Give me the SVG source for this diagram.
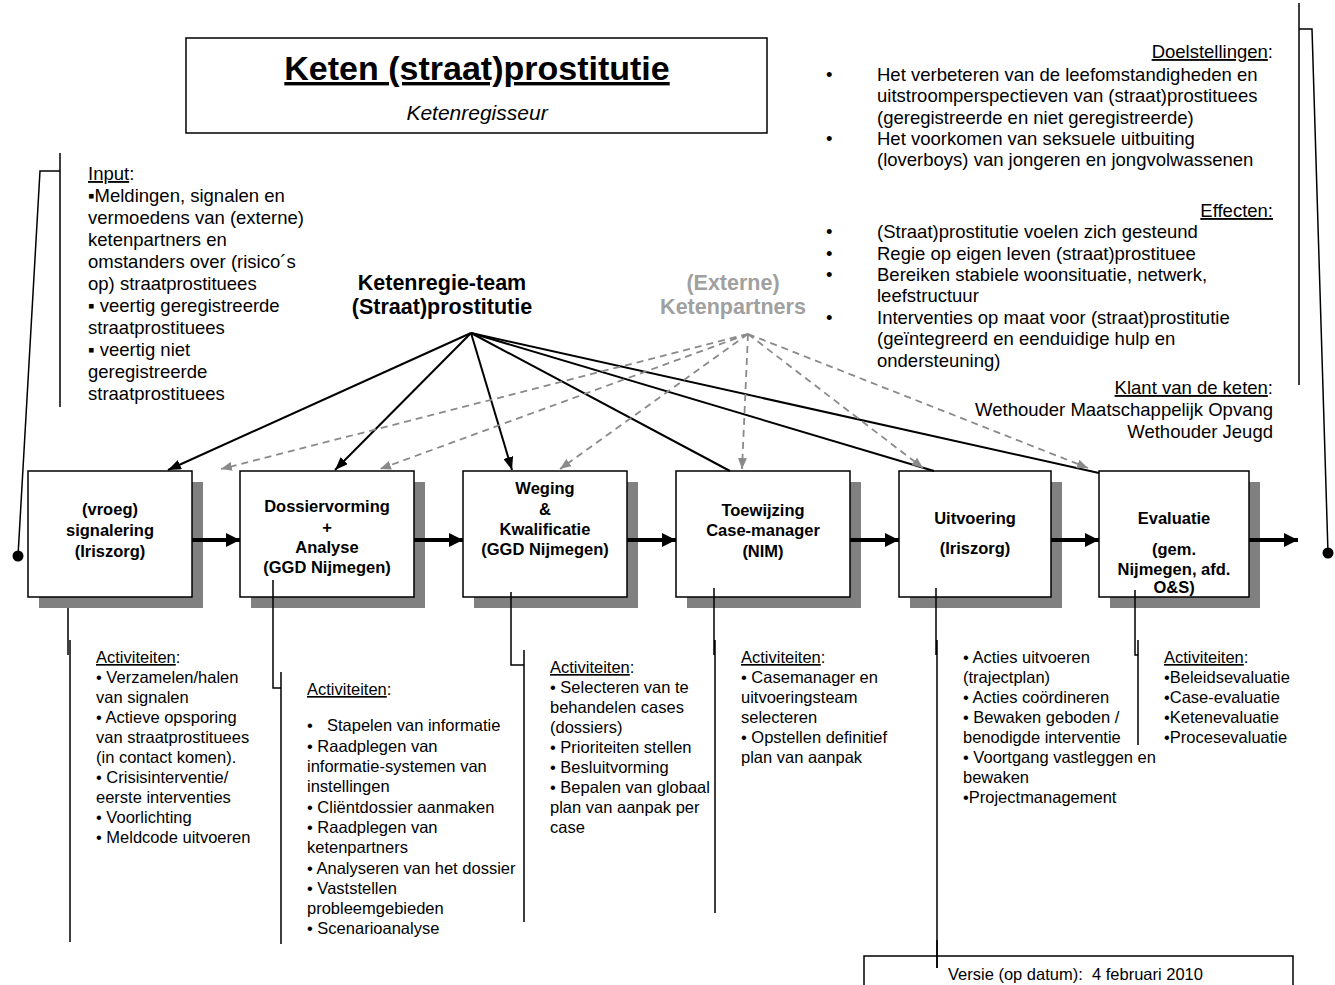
<svg xmlns="http://www.w3.org/2000/svg" width="1335" height="985" viewBox="0 0 1335 985">
<defs>
<style>
text{font-family:"Liberation Sans",Arial,Helvetica,sans-serif;fill:#000}
.t{font-size:18.5px}
.a{font-size:16.5px}
.b{font-size:16.5px;font-weight:bold;text-anchor:middle}
.h{font-size:21.5px;font-weight:bold;text-anchor:middle}
.g{fill:#a0a0a0}
.u{text-decoration:underline}
.box{fill:#fff;stroke:#000;stroke-width:1.5}
.sh{fill:#808080}
.ln{stroke:#000;stroke-width:1.5;fill:none}
.kl{stroke:#000;stroke-width:2;fill:none}
.dl{stroke:#8a8a8a;stroke-width:1.8;fill:none;stroke-dasharray:7 5}
.th{stroke:#000;stroke-width:4;fill:none}
</style>
<marker id="ah" markerWidth="13" markerHeight="10" refX="13" refY="5" orient="auto" markerUnits="userSpaceOnUse"><path d="M0,0 L13,5 L0,10 z" fill="#000"/></marker>
<marker id="ag" markerWidth="11" markerHeight="9" refX="11" refY="4.5" orient="auto" markerUnits="userSpaceOnUse"><path d="M0,0 L11,4.5 L0,9 z" fill="#8a8a8a"/></marker>
<marker id="at" markerWidth="14" markerHeight="14" refX="14" refY="7" orient="auto" markerUnits="userSpaceOnUse"><path d="M0,0 L14,7 L0,14 z" fill="#000"/></marker>
</defs>
<rect width="1335" height="985" fill="#fff"/>

<g id="title">
<rect x="186" y="38" width="581" height="95" fill="#fff" stroke="#000" stroke-width="1.5"/>
<text x="477" y="80" style="font-size:34px;font-weight:bold;text-anchor:middle;text-decoration:underline">Keten (straat)prostitutie</text>
<text x="477" y="120" style="font-size:21px;font-style:italic;text-anchor:middle">Ketenregisseur</text>
</g>

<g id="input">
<path class="ln" d="M60,153 V407 M60,171 H40 L18,556"/>
<circle cx="18" cy="556" r="5.5" fill="#000"/>
<text class="t" x="88" y="180"><tspan class="u">Input</tspan>:</text>
<text class="t" x="88" y="202">▪Meldingen, signalen en</text>
<text class="t" x="88" y="224">vermoedens van (externe)</text>
<text class="t" x="88" y="246">ketenpartners en</text>
<text class="t" x="88" y="268">omstanders over (risico´s</text>
<text class="t" x="88" y="290">op) straatprostituees</text>
<text class="t" x="88" y="312">▪ veertig geregistreerde</text>
<text class="t" x="88" y="334">straatprostituees</text>
<text class="t" x="88" y="356">▪ veertig niet</text>
<text class="t" x="88" y="378">geregistreerde</text>
<text class="t" x="88" y="400">straatprostituees</text>
</g>

<g id="doelstellingen">
<path class="ln" d="M1299,3 V385 M1299,29 H1312 L1328,553"/>
<circle cx="1328" cy="553" r="5.5" fill="#000"/>
<text class="t" x="1273" y="58" text-anchor="end"><tspan class="u">Doelstellingen</tspan>:</text>
<text class="t" x="826" y="81">•</text>
<text class="t" x="877" y="81">Het verbeteren van de leefomstandigheden en</text>
<text class="t" x="877" y="102">uitstroomperspectieven van (straat)prostituees</text>
<text class="t" x="877" y="124">(geregistreerde en niet geregistreerde)</text>
<text class="t" x="826" y="145">•</text>
<text class="t" x="877" y="145">Het voorkomen van seksuele uitbuiting</text>
<text class="t" x="877" y="166">(loverboys) van jongeren en jongvolwassenen</text>
<text class="t" x="1273" y="217" text-anchor="end"><tspan class="u">Effecten:</tspan></text>
<text class="t" x="826" y="238">•</text>
<text class="t" x="877" y="238">(Straat)prostitutie voelen zich gesteund</text>
<text class="t" x="826" y="260">•</text>
<text class="t" x="877" y="260">Regie op eigen leven (straat)prostituee</text>
<text class="t" x="826" y="281">•</text>
<text class="t" x="877" y="281">Bereiken stabiele woonsituatie, netwerk,</text>
<text class="t" x="877" y="302">leefstructuur</text>
<text class="t" x="826" y="324">•</text>
<text class="t" x="877" y="324">Interventies op maat voor (straat)prostitutie</text>
<text class="t" x="877" y="345">(geïntegreerd en eenduidige hulp en</text>
<text class="t" x="877" y="367">ondersteuning)</text>
<text class="t" x="1273" y="394" text-anchor="end"><tspan class="u">Klant van de keten</tspan>:</text>
<text class="t" x="1273" y="416" text-anchor="end">Wethouder Maatschappelijk Opvang</text>
<text class="t" x="1273" y="438" text-anchor="end">Wethouder Jeugd</text>
</g>

<g id="ketenregie-team">
<text class="h" x="442" y="290">Ketenregie-team</text>
<text class="h" x="442" y="314">(Straat)prostitutie</text>
</g>
<g id="externe-ketenpartners">
<text class="h g" x="733" y="290">(Externe)</text>
<text class="h g" x="733" y="314">Ketenpartners</text>
</g>

<g id="node-signalering">
<rect class="sh" x="39" y="482" width="164" height="126"/>
<rect class="box" x="28" y="471" width="164" height="126"/>
<text class="b" x="110" y="515">(vroeg)</text>
<text class="b" x="110" y="536">signalering</text>
<text class="b" x="110" y="557">(Iriszorg)</text>
</g>
<g id="node-dossiervorming">
<rect class="sh" x="251" y="482" width="174" height="126"/>
<rect class="box" x="240" y="471" width="174" height="126"/>
<text class="b" x="327" y="512">Dossiervorming</text>
<text class="b" x="327" y="533">+</text>
<text class="b" x="327" y="553">Analyse</text>
<text class="b" x="327" y="573">(GGD Nijmegen)</text>
</g>
<g id="node-weging">
<rect class="sh" x="474" y="482" width="164" height="126"/>
<rect class="box" x="463" y="471" width="164" height="126"/>
<text class="b" x="545" y="494">Weging</text>
<text class="b" x="545" y="515">&amp;</text>
<text class="b" x="545" y="535">Kwalificatie</text>
<text class="b" x="545" y="555">(GGD Nijmegen)</text>
</g>
<g id="node-toewijzing">
<rect class="sh" x="687" y="482" width="174" height="126"/>
<rect class="box" x="676" y="471" width="174" height="126"/>
<text class="b" x="763" y="516">Toewijzing</text>
<text class="b" x="763" y="536">Case-manager</text>
<text class="b" x="763" y="557">(NIM)</text>
</g>
<g id="node-uitvoering">
<rect class="sh" x="910" y="482" width="152" height="126"/>
<rect class="box" x="899" y="471" width="152" height="126"/>
<text class="b" x="975" y="524">Uitvoering</text>
<text class="b" x="975" y="554">(Iriszorg)</text>
</g>
<g id="node-evaluatie">
<rect class="sh" x="1110" y="482" width="150" height="126"/>
<rect class="box" x="1099" y="471" width="150" height="126"/>
<text class="b" x="1174" y="524">Evaluatie</text>
<text class="b" x="1174" y="555">(gem.</text>
<text class="b" x="1174" y="575">Nijmegen, afd.</text>
<text class="b" x="1174" y="593">O&amp;S)</text>
</g>

<g id="connectors">
<line class="th" x1="192" y1="540" x2="240" y2="540" marker-end="url(#at)"/>
<line class="th" x1="414" y1="540" x2="463" y2="540" marker-end="url(#at)"/>
<line class="th" x1="627" y1="540" x2="676" y2="540" marker-end="url(#at)"/>
<line class="th" x1="850" y1="540" x2="899" y2="540" marker-end="url(#at)"/>
<line class="th" x1="1051" y1="540" x2="1099" y2="540" marker-end="url(#at)"/>
<line class="th" x1="1249" y1="540" x2="1298" y2="540" marker-end="url(#at)"/>

<line class="kl" x1="471" y1="333" x2="168" y2="470" marker-end="url(#ah)"/>
<line class="kl" x1="471" y1="333" x2="335" y2="470" marker-end="url(#ah)"/>
<line class="kl" x1="471" y1="333" x2="512" y2="470" marker-end="url(#ah)"/>
<line class="kl" x1="471" y1="333" x2="730" y2="471"/>
<line class="kl" x1="471" y1="333" x2="934" y2="471"/>
<line class="kl" x1="471" y1="333" x2="1099" y2="473"/>

<line class="dl" x1="748" y1="334" x2="221" y2="469" marker-end="url(#ag)"/>
<line class="dl" x1="748" y1="334" x2="380" y2="469" marker-end="url(#ag)"/>
<line class="dl" x1="748" y1="334" x2="560" y2="469" marker-end="url(#ag)"/>
<line class="dl" x1="748" y1="334" x2="742" y2="469" marker-end="url(#ag)"/>
<line class="dl" x1="748" y1="334" x2="923" y2="468" marker-end="url(#ag)"/>
<line class="dl" x1="748" y1="334" x2="1088" y2="468" marker-end="url(#ag)"/>

<path class="ln" d="M68,608 V655 M70,640 V942"/>
<path class="ln" d="M273,580 V688 H281 M281,672 V944"/>
<path class="ln" d="M511,592 V665 H524 M524,650 V922"/>
<path class="ln" d="M714,588 V655 M715,640 V913"/>
<path class="ln" d="M936,588 V655 M937,640 V968"/>
<path class="ln" d="M1135,590 V655 H1138 M1138,640 V745"/>
</g>

<g id="activiteiten-1">
<text class="a" x="96" y="663"><tspan class="u">Activiteiten</tspan>:</text>
<text class="a" x="96" y="683">• Verzamelen/halen</text>
<text class="a" x="96" y="703">van signalen</text>
<text class="a" x="96" y="723">• Actieve opsporing</text>
<text class="a" x="96" y="743">van straatprostituees</text>
<text class="a" x="96" y="763">(in contact komen).</text>
<text class="a" x="96" y="783">• Crisisinterventie/</text>
<text class="a" x="96" y="803">eerste interventies</text>
<text class="a" x="96" y="823">• Voorlichting</text>
<text class="a" x="96" y="843">• Meldcode uitvoeren</text>
</g>
<g id="activiteiten-2">
<text class="a" x="307" y="695"><tspan class="u">Activiteiten</tspan>:</text>
<text class="a" x="307" y="731">•</text>
<text class="a" x="327" y="731">Stapelen van informatie</text>
<text class="a" x="307" y="752">• Raadplegen van</text>
<text class="a" x="307" y="772">informatie-systemen van</text>
<text class="a" x="307" y="792">instellingen</text>
<text class="a" x="307" y="813">• Cliëntdossier aanmaken</text>
<text class="a" x="307" y="833">• Raadplegen van</text>
<text class="a" x="307" y="853">ketenpartners</text>
<text class="a" x="307" y="874">• Analyseren van het dossier</text>
<text class="a" x="307" y="894">• Vaststellen</text>
<text class="a" x="307" y="914">probleemgebieden</text>
<text class="a" x="307" y="934">• Scenarioanalyse</text>
</g>
<g id="activiteiten-3">
<text class="a" x="550" y="673"><tspan class="u">Activiteiten</tspan>:</text>
<text class="a" x="550" y="693">• Selecteren van te</text>
<text class="a" x="550" y="713">behandelen cases</text>
<text class="a" x="550" y="733">(dossiers)</text>
<text class="a" x="550" y="753">• Prioriteiten stellen</text>
<text class="a" x="550" y="773">• Besluitvorming</text>
<text class="a" x="550" y="793">• Bepalen van globaal</text>
<text class="a" x="550" y="813">plan van aanpak per</text>
<text class="a" x="550" y="833">case</text>
</g>
<g id="activiteiten-4">
<text class="a" x="741" y="663"><tspan class="u">Activiteiten</tspan>:</text>
<text class="a" x="741" y="683">• Casemanager en</text>
<text class="a" x="741" y="703">uitvoeringsteam</text>
<text class="a" x="741" y="723">selecteren</text>
<text class="a" x="741" y="743">• Opstellen definitief</text>
<text class="a" x="741" y="763">plan van aanpak</text>
</g>
<g id="activiteiten-5">
<text class="a" x="963" y="663">• Acties uitvoeren</text>
<text class="a" x="963" y="683">(trajectplan)</text>
<text class="a" x="963" y="703">• Acties coördineren</text>
<text class="a" x="963" y="723">• Bewaken geboden /</text>
<text class="a" x="963" y="743">benodigde interventie</text>
<text class="a" x="963" y="763">• Voortgang vastleggen en</text>
<text class="a" x="963" y="783">bewaken</text>
<text class="a" x="963" y="803">•Projectmanagement</text>
</g>
<g id="activiteiten-6">
<text class="a" x="1164" y="663"><tspan class="u">Activiteiten</tspan>:</text>
<text class="a" x="1164" y="683">•Beleidsevaluatie</text>
<text class="a" x="1164" y="703">•Case-evaluatie</text>
<text class="a" x="1164" y="723">•Ketenevaluatie</text>
<text class="a" x="1164" y="743">•Procesevaluatie</text>
</g>

<g id="versie">
<rect x="864" y="956" width="429" height="40" fill="none" stroke="#000" stroke-width="1.5"/>
<text class="a" x="948" y="980" xml:space="preserve">Versie (op datum):  4 februari 2010</text>
</g>
<line x1="937" y1="940" x2="937" y2="968" stroke="#000" stroke-width="1.5"/>
</svg>
